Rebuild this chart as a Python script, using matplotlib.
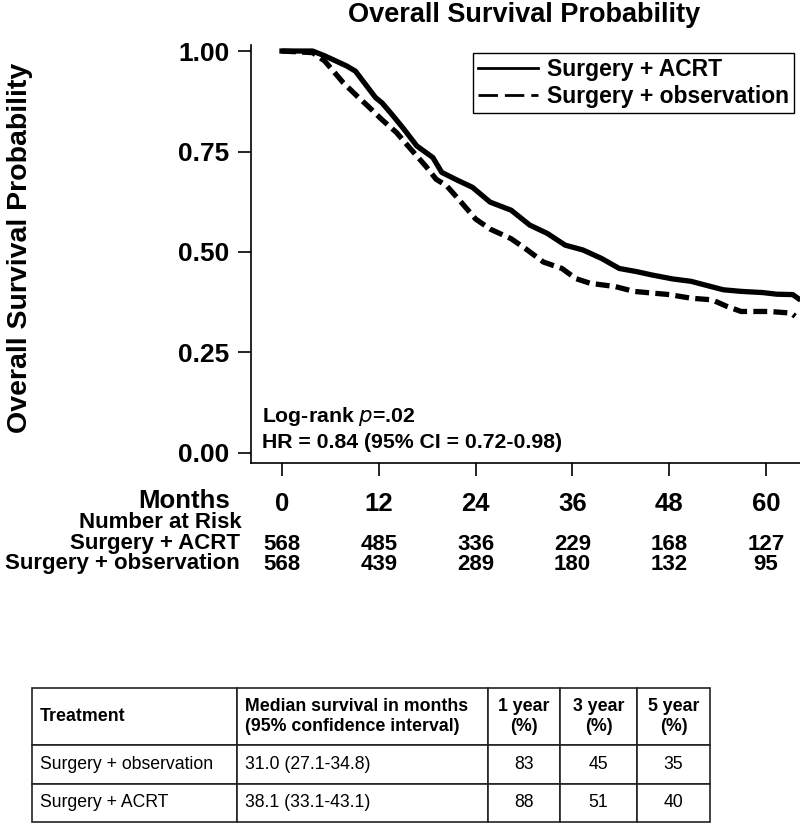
import numpy as np
import matplotlib
matplotlib.use("Agg")
import matplotlib.pyplot as plt
import matplotlib.transforms as mtransforms

plt.rcParams['font.family'] = ['Liberation Sans', 'DejaVu Sans']
plt.rcParams['lines.scale_dashes'] = False

# Kaplan-Meier curves (months, survival probability)
acrt_months = [0, 3.8, 5.3, 8.0, 9.1, 10.2, 11.6, 12.4, 13.8, 15.1, 16.7, 18.7, 19.8,
               21.8, 23.6, 25.8, 28.4, 30.7, 32.9, 35.1, 37.3, 39.6, 41.8, 44.0, 45.8,
               48.4, 50.7, 52.4, 54.7, 56.9, 59.6, 61.3, 63.3, 64.0]
acrt_surv = [1.0, 1.0, 0.988, 0.963, 0.950, 0.921, 0.884, 0.871, 0.838, 0.806, 0.764,
             0.735, 0.698, 0.678, 0.661, 0.624, 0.604, 0.567, 0.546, 0.517, 0.505,
             0.484, 0.459, 0.451, 0.443, 0.433, 0.427, 0.418, 0.406, 0.402, 0.399,
             0.395, 0.394, 0.384]

obs_months = [0, 3.8, 5.3, 7.6, 9.3, 10.7, 12.4, 14.2, 16.0, 17.8, 19.1, 20.4, 22.2,
              24.0, 25.8, 28.4, 30.2, 32.4, 34.7, 36.4, 38.2, 41.3, 43.6, 45.8, 48.0,
              50.7, 53.3, 55.1, 56.9, 60.4, 63.1, 63.6]
obs_surv = [1.0, 0.996, 0.975, 0.921, 0.888, 0.862, 0.829, 0.797, 0.755, 0.714, 0.681,
            0.665, 0.624, 0.582, 0.557, 0.533, 0.508, 0.475, 0.459, 0.434, 0.422,
            0.414, 0.402, 0.398, 0.394, 0.385, 0.381, 0.365, 0.352, 0.352, 0.348, 0.340]

# number at risk table
risk_months = [0, 12, 24, 36, 48, 60]
risk_acrt = [568, 485, 336, 229, 168, 127]
risk_obs = [568, 439, 289, 180, 132, 95]

y_ticks = [0.0, 0.25, 0.5, 0.75, 1.0]

# summary table
tab_header = ["Treatment", "Median survival in months\n(95% confidence interval)",
              "1 year\n(%)", "3 year\n(%)", "5 year\n(%)"]
tab_treatment = ["Surgery + observation", "Surgery + ACRT"]
tab_median = ["31.0 (27.1-34.8)", "38.1 (33.1-43.1)"]
tab_1yr = [83, 88]
tab_3yr = [45, 51]
tab_5yr = [35, 40]

W, H = 800, 825
fig = plt.figure(figsize=(W / 100, H / 100), dpi=100)
ax = fig.add_axes([251 / W, 1 - 463 / H, 549 / W, 418 / H])

ax.plot(acrt_months, acrt_surv, color='k', lw=3.8, solid_joinstyle='round',
        label='Surgery + ACRT')
ax.plot(obs_months, obs_surv, color='k', lw=3.8, dashes=(10, 4.5),
        label='Surgery + observation')

ax.set_xlim(-3.84, 64.2)
ax.set_ylim(-0.025, 1.015)
for s in ['top', 'right']:
    ax.spines[s].set_visible(False)
for s in ['left', 'bottom']:
    ax.spines[s].set_linewidth(1.2)

ax.set_yticks(y_ticks)
ax.set_yticklabels(["%.2f" % v for v in y_ticks], fontsize=19, fontweight='bold')
ax.set_xticks(risk_months)
ax.set_xticklabels([str(m) for m in risk_months], fontsize=18.5, fontweight='bold')
ax.tick_params(axis='y', length=9.5, width=1.2, pad=6)
ax.tick_params(axis='x', length=9.5, width=1.2, pad=11.5)

leg = ax.legend(loc='upper right', bbox_to_anchor=(794 / W, 1 - 53 / H),
                bbox_transform=fig.transFigure, borderaxespad=0, fancybox=False,
                edgecolor='k', framealpha=1, prop={'size': 16.5, 'weight': 'bold'},
                handlelength=2.6, handletextpad=0.4, borderpad=0.22, labelspacing=0.18)
leg.get_frame().set_linewidth(1.0)
leg_lines = leg.get_lines()
leg_lines[0].set_linewidth(2)
leg_lines[1].set_linewidth(2)
leg_lines[1].set_dashes((14, 5))

ax.text(262 / W, 1 - 416 / H, "Log-rank $\\bf{\\it{p}}$=.02", transform=fig.transFigure,
        fontsize=15.3, fontweight='bold', va='center', ha='left')
ax.text(262 / W, 1 - 442 / H, "HR = 0.84 (95% CI = 0.72-0.98)", transform=fig.transFigure,
        fontsize=15.3, fontweight='bold', va='center', ha='left')

# title and y label
fig.text(524 / W, 1 - 15 / H, "Overall Survival Probability", fontsize=19.5,
         fontweight='bold', ha='center', va='center')
fig.text(20 / W, 1 - 248 / H, "Overall Survival Probability", fontsize=20.5,
         fontweight='bold', ha='center', va='center', rotation=90)

# number at risk
fig.text(230 / W, 1 - 501 / H, "Months", fontsize=18.5, fontweight='bold',
         ha='right', va='center')
fig.text(242 / W, 1 - 523 / H, "Number at Risk", fontsize=16, fontweight='bold',
         ha='right', va='center')
fig.text(240 / W, 1 - 544 / H, "Surgery + ACRT", fontsize=16, fontweight='bold',
         ha='right', va='center')
fig.text(240 / W, 1 - 564 / H, "Surgery + observation", fontsize=16, fontweight='bold',
         ha='right', va='center')
trans = mtransforms.blended_transform_factory(ax.transData, fig.transFigure)
for m, a, o in zip(risk_months, risk_acrt, risk_obs):
    ax.text(m, 1 - 544 / H, str(a), transform=trans, fontsize=16, fontweight='bold',
            ha='center', va='center', clip_on=False)
    ax.text(m, 1 - 564 / H, str(o), transform=trans, fontsize=16, fontweight='bold',
            ha='center', va='center', clip_on=False)

# summary table
tab_ax = fig.add_axes([32 / W, 1 - 822 / H, 678 / W, 134 / H])
tab_ax.axis('off')
rows = []
for i in range(len(tab_treatment)):
    rows.append([tab_treatment[i], tab_median[i], str(tab_1yr[i]), str(tab_3yr[i]),
                 str(tab_5yr[i])])
col_w = np.array([205, 251, 72, 77, 73], dtype=float)
tbl = tab_ax.table(cellText=rows, colLabels=tab_header, colWidths=list(col_w / col_w.sum()),
                   cellLoc='center', colLoc='center', bbox=[0, 0, 1, 1])
tbl.auto_set_font_size(False)
tbl.set_fontsize(12.7)
for (r, c), cell in tbl.get_celld().items():
    cell.set_linewidth(1.2)
    cell.set_edgecolor('#222222')
    txt = cell.get_text()
    if r == 0:
        cell.set_height(57)
        txt.set_fontweight('bold')
        txt.set_fontsize(12.8)
    else:
        cell.set_height(38.5)
    if c < 2:
        txt.set_horizontalalignment('left')
        cell.PAD = 8.0 / col_w[c]

fig.savefig("out.png", dpi=100)
